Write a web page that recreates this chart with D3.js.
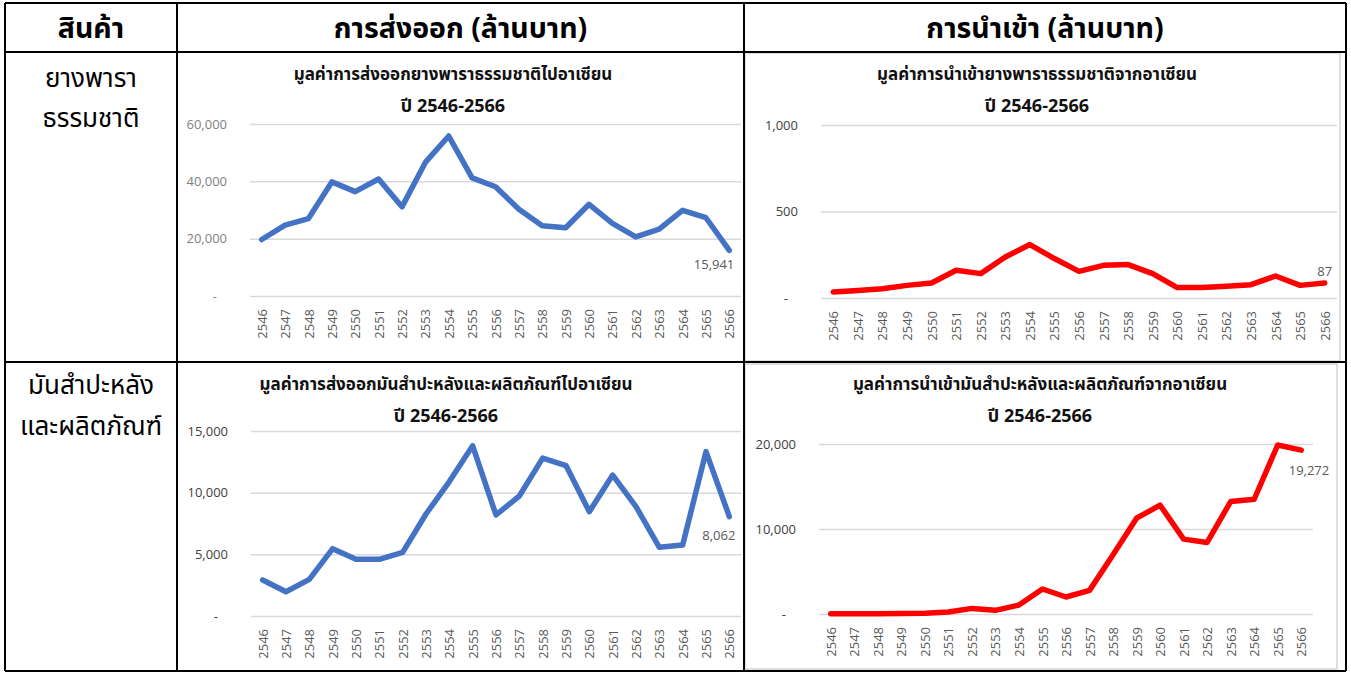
<!DOCTYPE html>
<html lang="th">
<head>
<meta charset="UTF-8">
<script src="https://d3js.org/d3.v7.min.js"></script>
<style>
  body { margin: 0; background: #fff; }
  svg { display: block; }
  .thai { font-family: "Noto Sans Thai", "Noto Sans Thai UI", "Noto Sans", sans-serif; }
  .tick text { font-family: "Open Sans", "Noto Sans", sans-serif; }
</style>
</head>
<body>
<svg id="chart"></svg>
<script>
// ---- data ----
var years = ["2546","2547","2548","2549","2550","2551","2552","2553","2554","2555","2556",
             "2557","2558","2559","2560","2561","2562","2563","2564","2565","2566"];

var rubberExport = [19700, 24700, 27000, 39800, 36400, 40800, 31100, 46600, 55800, 41200, 38100,
                    30300, 24500, 23800, 32000, 25300, 20600, 23300, 29900, 27300, 15941];
var rubberImport = [35, 44, 54, 73, 87, 160, 141, 237, 309, 228, 154,
                    189, 193, 141, 60, 60, 68, 77, 127, 73, 87];
var cassavaExport = [2920, 1970, 2970, 5460, 4600, 4600, 5160, 8270, 10900, 13800, 8190,
                     9730, 12800, 12200, 8460, 11430, 8870, 5570, 5760, 13330, 8062];
var cassavaImport = [40, 40, 40, 50, 100, 230, 660, 430, 1060, 2940, 2000,
                     2780, 6970, 11270, 12800, 8810, 8420, 13230, 13500, 19880, 19272];

var rubberExportTicks = [0, 20000, 40000, 60000];
var rubberImportTicks = [0, 500, 1000];
var cassavaExportTicks = [0, 5000, 10000, 15000];
var cassavaImportTicks = [0, 10000, 20000];

var headers = ["สินค้า", "การส่งออก (ล้านบาท)", "การนำเข้า (ล้านบาท)"];
var rowLabels = [["ยางพารา", "ธรรมชาติ"], ["มันสำปะหลัง", "และผลิตภัณฑ์"]];
var titles = ["มูลค่าการส่งออกยางพาราธรรมชาติไปอาเซียน",
              "มูลค่าการนำเข้ายางพาราธรรมชาติจากอาเซียน",
              "มูลค่าการส่งออกมันสำปะหลังและผลิตภัณฑ์ไปอาเซียน",
              "มูลค่าการนำเข้ามันสำปะหลังและผลิตภัณฑ์จากอาเซียน"];
var subTitle = "ปี 2546-2566";

var W = 1351, H = 673;
var svg = d3.select("#chart").attr("width", W).attr("height", H);

// ---- table ----
var tbl = {left: 5, right: 1346, top: 3, bottom: 671, head: 52, row: 362, c1: 177, c2: 744};

function drawTable() {
  var g = svg.append("g");

  // light frames of the pasted chart pictures
  g.append("rect").attr("x", 745).attr("y", 53).attr("width", 595).attr("height", 308)
    .attr("fill", "none").attr("stroke", "#d4d4d4").attr("stroke-width", 1.5);
  g.append("rect").attr("x", 745).attr("y", 364).attr("width", 592).attr("height", 305)
    .attr("fill", "none").attr("stroke", "#d4d4d4").attr("stroke-width", 1.5);

  var lines = [
    [tbl.left, tbl.top, tbl.right, tbl.top],
    [tbl.left, tbl.bottom, tbl.right, tbl.bottom],
    [tbl.left, tbl.top, tbl.left, tbl.bottom],
    [tbl.right, tbl.top, tbl.right, tbl.bottom],
    [tbl.left, tbl.head, tbl.right, tbl.head],
    [tbl.left, tbl.row, tbl.right, tbl.row],
    [tbl.c1, tbl.top, tbl.c1, tbl.bottom],
    [tbl.c2, tbl.top, tbl.c2, tbl.bottom]
  ];
  g.selectAll("line.border").data(lines).enter().append("line")
    .attr("x1", function(d){ return d[0]; }).attr("y1", function(d){ return d[1]; })
    .attr("x2", function(d){ return d[2]; }).attr("y2", function(d){ return d[3]; })
    .attr("stroke", "#000").attr("stroke-width", 2);

  var headX = [(tbl.left + tbl.c1) / 2, (tbl.c1 + tbl.c2) / 2, (tbl.c2 + tbl.right) / 2];
  g.selectAll("text.head").data(headers).enter().append("text")
    .attr("class", "thai")
    .attr("x", function(d, i){ return headX[i]; })
    .attr("y", 29)
    .attr("text-anchor", "middle")
    .attr("dominant-baseline", "central")
    .attr("font-size", 28.5)
    .attr("font-weight", "bold")
    .text(function(d){ return d; });

  var rowY = [[79, 119], [386, 427]];
  rowLabels.forEach(function(lab, r) {
    lab.forEach(function(t, k) {
      g.append("text").attr("class", "thai")
        .attr("x", 91).attr("y", rowY[r][k])
        .attr("text-anchor", "middle")
        .attr("dominant-baseline", "central")
        .attr("font-size", 26)
        .text(t);
    });
  });
}

// ---- one line chart ----
function drawChart(opt) {
  var x = d3.scalePoint().domain(years).range([opt.x0, opt.x1]).padding(0.5);
  var y = d3.scaleLinear().domain([0, d3.max(opt.ticks)]).range([opt.y0, opt.y1]);
  var fmt = d3.format(",");

  var g = svg.append("g");

  // titles
  g.append("text").attr("class", "thai")
    .attr("x", opt.tx).attr("y", opt.ty)
    .attr("text-anchor", "middle").attr("dominant-baseline", "central")
    .attr("font-size", 17).attr("font-weight", "bold").attr("fill", "#111")
    .text(opt.title);
  g.append("text").attr("class", "thai")
    .attr("x", opt.tx).attr("y", opt.ty + 31)
    .attr("text-anchor", "middle").attr("dominant-baseline", "central")
    .attr("font-size", 18).attr("font-weight", "bold").attr("fill", "#111")
    .text(subTitle);

  // y axis with gridlines
  var yAxis = d3.axisLeft(y)
    .tickValues(opt.ticks)
    .tickSize(-(opt.x1 - opt.x0))
    .tickPadding(23)
    .tickFormat(function(d){ return d === 0 ? "-" : fmt(d); });
  var ya = g.append("g").attr("transform", "translate(" + opt.x0 + ",0)").call(yAxis);
  ya.select(".domain").remove();
  ya.selectAll(".tick line").attr("stroke", "#d9d9d9").attr("stroke-width", 1.5);
  ya.selectAll(".tick text")
    .attr("font-size", 13).attr("fill", opt.yColor)
    .attr("dx", function(d){ return d === 0 ? -10 : 0; });

  // x axis, rotated labels
  var xAxis = d3.axisBottom(x).tickSize(0);
  var xa = g.append("g").attr("transform", "translate(0," + opt.y0 + ")").call(xAxis);
  xa.select(".domain").remove();
  xa.selectAll(".tick text")
    .attr("font-size", 13).attr("fill", "#595959")
    .attr("transform", "rotate(-90)")
    .attr("text-anchor", "end")
    .attr("x", -13).attr("y", 0).attr("dy", "0.35em");

  // the line
  var line = d3.line()
    .x(function(d, i){ return x(years[i]); })
    .y(function(d){ return y(d); });
  g.append("path").datum(opt.values)
    .attr("d", line)
    .attr("fill", "none")
    .attr("stroke", opt.color)
    .attr("stroke-width", 5.5)
    .attr("stroke-linejoin", "round")
    .attr("stroke-linecap", "round");

  // label on last point
  var last = opt.values.length - 1;
  g.append("text")
    .attr("x", x(years[last]) + opt.ldx)
    .attr("y", y(opt.values[last]) + opt.ldy)
    .attr("text-anchor", opt.lanchor)
    .attr("dominant-baseline", "central")
    .attr("font-family", "\"Open Sans\", \"Noto Sans\", sans-serif")
    .attr("font-size", 13).attr("fill", "#595959")
    .text(fmt(opt.values[last]));
}

drawTable();

drawChart({values: rubberExport, ticks: rubberExportTicks, title: titles[0], color: "#4472C4",
  x0: 250, x1: 741, y0: 296, y1: 124, tx: 453, ty: 75, yColor: "#808080",
  ldx: 5, ldy: 14, lanchor: "end"});
drawChart({values: rubberImport, ticks: rubberImportTicks, title: titles[1], color: "#FF0000",
  x0: 821, x1: 1337, y0: 298, y1: 125, tx: 1037, ty: 75, yColor: "#404040",
  ldx: 0, ldy: -12, lanchor: "middle"});
drawChart({values: cassavaExport, ticks: cassavaExportTicks, title: titles[2], color: "#4472C4",
  x0: 251, x1: 741, y0: 616, y1: 431, tx: 446, ty: 385, yColor: "#404040",
  ldx: 6, ldy: 18, lanchor: "end"});
drawChart({values: cassavaImport, ticks: cassavaImportTicks, title: titles[3], color: "#FF0000",
  x0: 819, x1: 1313, y0: 614, y1: 444, tx: 1040, ty: 385, yColor: "#404040",
  ldx: 28, ldy: 20, lanchor: "end"});
</script>
</body>
</html>
